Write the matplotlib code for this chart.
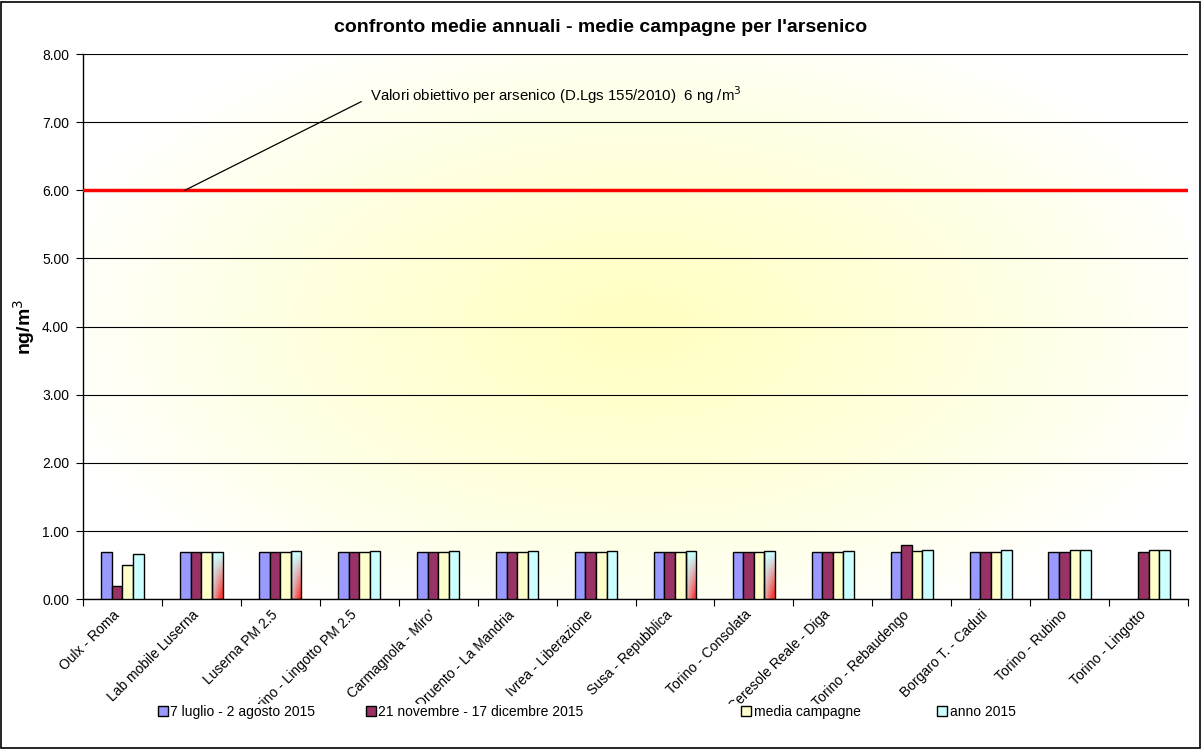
import numpy as np
import matplotlib
matplotlib.use('Agg')
import matplotlib.pyplot as plt
from matplotlib.patches import Rectangle, Patch
from matplotlib.transforms import Bbox, TransformedBbox

plt.rcParams['font.family'] = ['Liberation Sans', 'DejaVu Sans']

# dati
stazioni = ["Oulx - Roma", "Lab mobile Luserna", "Luserna PM 2.5",
            "Torino - Lingotto PM 2.5", "Carmagnola - Miro'", "Druento - La Mandria",
            "Ivrea - Liberazione", "Susa - Repubblica", "Torino - Consolata",
            "Ceresole Reale - Diga", "Torino - Rebaudengo", "Borgaro T. - Caduti",
            "Torino - Rubino", "Torino - Lingotto"]
estate = [0.70, 0.70, 0.70, 0.70, 0.70, 0.70, 0.70, 0.70, 0.70, 0.70, 0.70, 0.70, 0.70, np.nan]
inverno = [0.20, 0.70, 0.70, 0.70, 0.70, 0.70, 0.70, 0.70, 0.70, 0.70, 0.80, 0.70, 0.70, 0.70]
media_camp = [0.50, 0.70, 0.70, 0.70, 0.70, 0.70, 0.70, 0.70, 0.70, 0.70, 0.71, 0.70, 0.73, 0.73]
anno2015 = [0.67, 0.70, 0.71, 0.71, 0.71, 0.71, 0.71, 0.71, 0.71, 0.71, 0.72, 0.72, 0.73, 0.73]
serie = ["7 luglio - 2 agosto 2015", "21 novembre - 17 dicembre 2015",
         "media campagne", "anno 2015"]
colori = ['#9999FF', '#993366', '#FFFFCC', '#CCFFFF']
# barre "anno 2015" con riempimento sfumato
sfumate = [1, 2, 7, 8]
valore_obiettivo = 6

fig = plt.figure(figsize=(12.02, 7.49), dpi=100)
ax = fig.add_axes([83/1202, 149.7/749, 1105/1202, 545.3/749])

# sfondo sfumato radiale
gx, gy = np.meshgrid(np.linspace(0, 1, 300), np.linspace(0, 1, 300))
r = np.sqrt(((gx - 0.5) / 0.55)**2 + ((gy - 0.5) / 0.6)**2)
r = np.clip(r, 0, 1)
bg = np.ones((300, 300, 3))
bg[..., 2] = 0.76 + 0.24 * r**1.2
ax.imshow(bg, extent=[0, 1, 0, 1], transform=ax.transAxes, aspect='auto', zorder=0)

x = np.arange(len(stazioni))
w = 0.134
dati = [estate, inverno, media_camp, anno2015]
for k, (vals, col) in enumerate(zip(dati, colori)):
    pos = x + (k - 1.5) * w
    bars = ax.bar(pos, vals, w, color=col, edgecolor='black', linewidth=1, zorder=3)
    if k == 3:
        for i in sfumate:
            b = bars[i]
            b.set_facecolor('none')
            v, h = np.meshgrid(np.linspace(0, 1, 30), np.linspace(0, 1, 60), indexing='ij')
            s = np.clip(v * (0.35 + 0.9 * h) - 0.05, 0, 1)
            c0 = np.array([0.8, 1.0, 1.0])
            c1 = np.array([1.0, 0.2, 0.2])
            img = c0 * (1 - s[..., None]) + c1 * s[..., None]
            im = ax.imshow(img[::-1], extent=[b.get_x(), b.get_x() + b.get_width(), 0, b.get_height()],
                           aspect='auto', zorder=2.5, origin='lower')
            im.set_clip_path(b)

ax.axhline(valore_obiettivo, color='#FF0000', linewidth=2.5, zorder=4)
ax.annotate("Valori obiettivo per arsenico (D.Lgs 155/2010)  6 ng /m$^3$",
            xy=(0.79, valore_obiettivo), xytext=(3.14, 7.40),
            fontsize=10.8, va='center', ha='left',
            arrowprops=dict(arrowstyle='-', color='black', lw=0.9,
                            shrinkA=5, shrinkB=0, relpos=(0, 0.4)), zorder=5)

ax.set_xlim(-0.5, len(stazioni) - 0.5)
ax.set_ylim(0, 8)
ax.set_yticks(np.arange(0, 9, 1))
ax.set_yticklabels(["%.2f" % v for v in np.arange(0, 9, 1)], fontsize=10)
ax.yaxis.grid(True, color='black', linewidth=0.8)
ax.set_axisbelow(True)
ax.set_xticks(np.arange(len(stazioni) + 1) - 0.5)
ax.set_xticklabels([])
ax.set_xticks(x, minor=True)
ax.set_xticklabels(stazioni, minor=True, rotation=45, ha='right', fontsize=10)
ax.tick_params(axis='x', which='minor', length=0, pad=6)
ax.tick_params(axis='x', which='major', length=5, direction='out')
ax.tick_params(axis='y', length=5, direction='out', pad=5)
for sp in ['top', 'right']:
    ax.spines[sp].set_visible(False)
ax.spines['left'].set_linewidth(1)
ax.spines['bottom'].set_linewidth(1)

# etichette lunghe tagliate in basso come nell'originale
clip = TransformedBbox(Bbox([[0, 45/749], [1, 1]]), fig.transFigure)
for lab in ax.get_xticklabels(minor=True):
    lab.set_clip_on(True)
    lab.set_clip_box(clip)

ax.set_ylabel("ng/m$^3$", fontsize=14, fontweight='bold')
ax.yaxis.set_label_coords(-46/1105, 0.5)
fig.text(0.5, 1 - 27/749, "confronto medie annuali - medie campagne per l'arsenico",
         fontsize=14, fontweight='bold', ha='center', va='center')

# legenda
leg_x = [158/1202, 366/1202, 741/1202, 937/1202]
for nome, col, lx in zip(serie, colori, leg_x):
    h = Patch(facecolor=col, edgecolor='black', linewidth=1)
    fig.legend([h], [nome], loc='center left', bbox_to_anchor=(lx, 37/749),
               frameon=False, fontsize=10, handlelength=0.7, handleheight=0.7,
               handletextpad=0.2, borderaxespad=0, borderpad=0)

fig.patches.append(Rectangle((0.001, 0.001), 0.997, 0.996, transform=fig.transFigure,
                             fill=False, edgecolor='black', linewidth=1.2))

plt.savefig("out.png", dpi=100)
